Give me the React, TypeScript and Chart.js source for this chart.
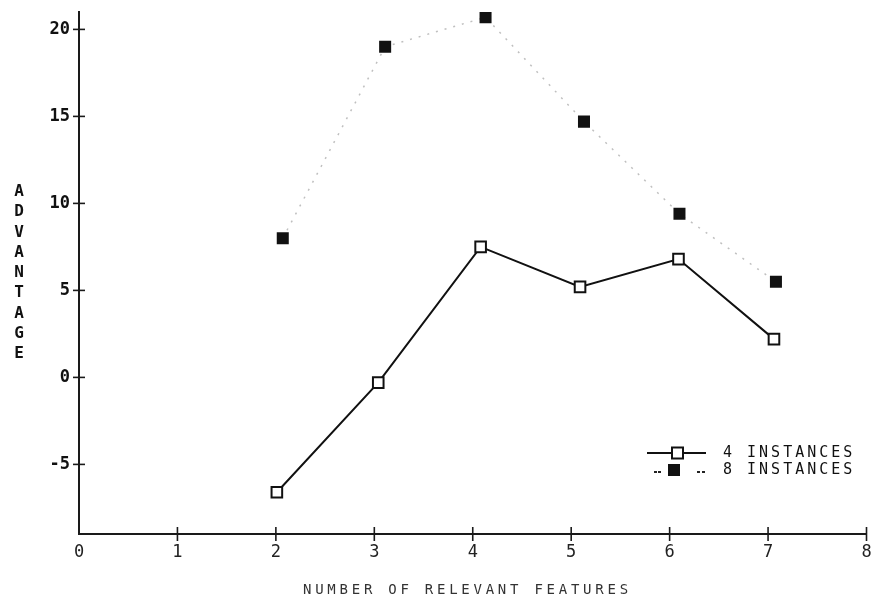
import React, { useEffect, useRef } from "react";
import { Chart, registerables } from "chart.js";

Chart.register(...registerables);

const xTicks = [0, 1, 2, 3, 4, 5, 6, 7, 8];
const yTicks = [-5, 0, 5, 10, 15, 20];

const x4 = [2.01, 3.04, 4.08, 5.09, 6.09, 7.06];
const y4 = [-6.6, -0.3, 7.5, 5.2, 6.8, 2.2];

const x8 = [2.07, 3.11, 4.13, 5.13, 6.1, 7.08];
const y8 = [8.0, 19.0, 20.7, 14.7, 9.4, 5.5];

const legendLabels = ["4 INSTANCES", "8 INSTANCES"];
const xTitle = "NUMBER OF RELEVANT FEATURES";
const yTitle = "ADVANTAGE";

const MONO = "'DejaVu Sans Mono', 'Liberation Mono', monospace";

const crossTicks = {
  id: "crossTicks",
  afterDraw(chart: any) {
    const { ctx, chartArea, scales } = chart;
    const xs = scales.x;
    const ys = scales.y;
    ctx.save();
    ctx.strokeStyle = "#1a1a1a";
    ctx.lineWidth = 1.6;
    yTicks.forEach((v) => {
      const py = ys.getPixelForValue(v);
      ctx.beginPath();
      ctx.moveTo(chartArea.left - 6, py);
      ctx.lineTo(chartArea.left + 6, py);
      ctx.stroke();
    });
    xTicks.forEach((v) => {
      if (v === 0) return;
      const px = xs.getPixelForValue(v);
      ctx.beginPath();
      ctx.moveTo(px, chartArea.bottom - 7);
      ctx.lineTo(px, chartArea.bottom + 7);
      ctx.stroke();
    });

    // legend
    const row1 = 453;
    const row2 = 470;
    ctx.strokeStyle = "#111";
    ctx.lineWidth = 2;
    ctx.beginPath();
    ctx.moveTo(647, row1);
    ctx.lineTo(706, row1);
    ctx.stroke();
    ctx.fillStyle = "#fff";
    ctx.fillRect(672, row1 - 5.5, 11, 11);
    ctx.strokeRect(672, row1 - 5.5, 11, 11);

    ctx.fillStyle = "#222";
    [654, 658, 697, 702].forEach((px) => {
      ctx.fillRect(px, row2 + 1, 3, 2);
    });
    ctx.fillStyle = "#111";
    ctx.fillRect(668, row2 - 6, 12, 12);

    ctx.fillStyle = "#111";
    ctx.font = `15px ${MONO}`;
    (ctx as any).letterSpacing = "3px";
    ctx.textBaseline = "middle";
    ctx.textAlign = "left";
    ctx.fillText(legendLabels[0], 723, row1);
    ctx.fillText(legendLabels[1], 723, row2);
    ctx.restore();
  },
};

export default function App() {
  const ref = useRef<HTMLCanvasElement>(null);

  useEffect(() => {
    if (!ref.current) return;
    const chart = new Chart(ref.current, {
      type: "scatter",
      data: {
        datasets: [
          {
            label: legendLabels[1],
            data: x8.map((x, i) => ({ x, y: y8[i] })),
            showLine: true,
            borderColor: "rgba(0,0,0,0.25)",
            borderWidth: 1.5,
            borderDash: [2, 7],
            pointStyle: "rect",
            pointRadius: 8.5,
            pointBackgroundColor: "#111",
            pointBorderColor: "#111",
            pointBorderWidth: 0,
          },
          {
            label: legendLabels[0],
            data: x4.map((x, i) => ({ x, y: y4[i] })),
            showLine: true,
            borderColor: "#111",
            borderWidth: 2,
            pointStyle: "rect",
            pointRadius: 7.5,
            pointBackgroundColor: "#fff",
            pointBorderColor: "#111",
            pointBorderWidth: 2,
          },
        ],
      },
      options: {
        animation: false,
        responsive: false,
        layout: { padding: { top: 12, right: 3, left: 0, bottom: 0 } },
        plugins: {
          legend: { display: false },
          tooltip: { enabled: false },
          title: { display: false },
        },
        scales: {
          x: {
            type: "linear",
            min: 0,
            max: 8,
            grid: { display: false },
            border: { display: true, color: "#1a1a1a", width: 2 },
            afterBuildTicks: (scale: any) => {
              scale.ticks = xTicks.map((v) => ({ value: v }));
            },
            afterFit: (scale: any) => {
              scale.height = 62;
              scale.paddingRight = 0;
              scale.paddingLeft = 0;
            },
            ticks: {
              padding: 0,
              color: "#222",
              font: { family: MONO, size: 17 },
              maxRotation: 0,
              autoSkip: false,
            },
          },
          y: {
            type: "linear",
            min: -9,
            max: 21,
            grid: { display: false },
            border: { display: true, color: "#1a1a1a", width: 2 },
            afterBuildTicks: (scale: any) => {
              scale.ticks = yTicks.map((v) => ({ value: v }));
            },
            afterFit: (scale: any) => {
              scale.width = 79;
            },
            ticks: {
              padding: 1,
              color: "#111",
              font: { family: MONO, size: 17, weight: "bold" },
              autoSkip: false,
            },
          },
        },
      },
      plugins: [crossTicks],
    });
    return () => chart.destroy();
  }, []);

  return (
    <div
      style={{
        position: "absolute",
        left: 0,
        top: 0,
        width: 876,
        height: 596,
        background: "#fff",
        overflow: "hidden",
      }}
    >
      <canvas ref={ref} width={876} height={596} style={{ position: "absolute", left: 0, top: 0 }} />
      <div
        style={{
          position: "absolute",
          left: 10,
          top: 181,
          width: 18,
          fontFamily: MONO,
          fontWeight: "bold",
          fontSize: 16,
          lineHeight: "20.3px",
          textAlign: "center",
          color: "#111",
        }}
      >
        {yTitle.split("").map((c, i) => (
          <div key={i}>{c}</div>
        ))}
      </div>
      <div
        style={{
          position: "absolute",
          left: 303,
          top: 581,
          fontFamily: MONO,
          fontSize: 14,
          letterSpacing: "3.75px",
          lineHeight: "16px",
          color: "#333",
          whiteSpace: "nowrap",
        }}
      >
        {xTitle}
      </div>
    </div>
  );
}
